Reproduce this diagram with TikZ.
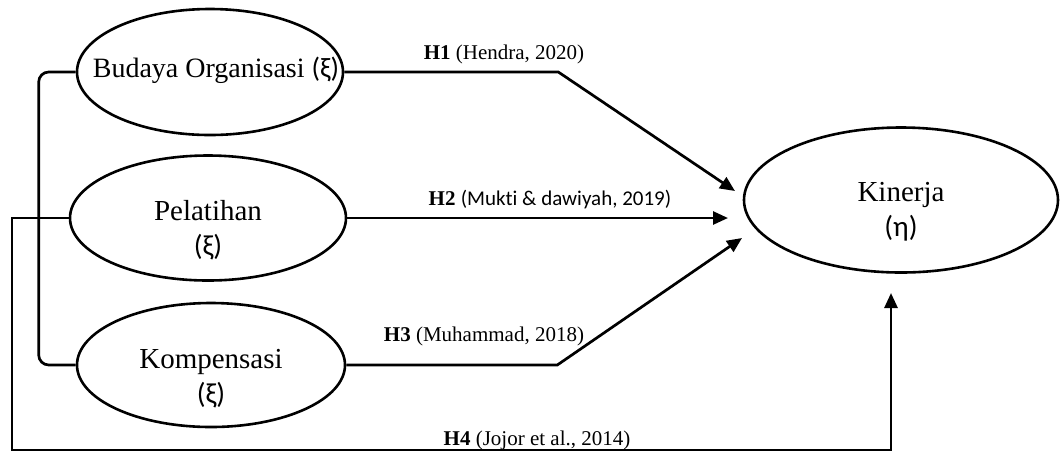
\documentclass[tikz,border=0pt]{standalone}
\usepackage{fontspec}
\setmainfont{Liberation Serif}
\newfontfamily\calfont[Ligatures=NoCommon]{Carlito}
\usetikzlibrary{shapes.geometric,arrows.meta}

\begin{document}
\begin{tikzpicture}[x=0.5pt,y=-0.5pt,
  latent/.style={ellipse,draw,line width=1.3pt,inner sep=0pt},
  bigtxt/.style={font=\fontsize{14.5}{17.5}\selectfont,align=center},
  reftxt/.style={font=\fontsize{10.5}{12}\selectfont},
  link/.style={line width=1.35pt,-{Triangle[length=7.5pt,width=6.5pt]}}]
\useasboundingbox (0,0) rectangle (1061,457);
\node [latent,minimum width=133pt,minimum height=63pt] (budaya) at (210,72) {};
\node [latent,minimum width=138pt,minimum height=62.5pt] (pelatihan) at (208,218) {};
\node [latent,minimum width=134pt,minimum height=62pt] (kompensasi) at (211,365) {};
\node [latent,minimum width=157pt,minimum height=72.5pt] (kinerja) at (901,200) {};
\node [bigtxt,font=\fontsize{14}{17}\selectfont] (budayatxt) at ([xshift=3pt,yshift=1pt]budaya) {Budaya Organisasi {\calfont(ξ)}};
\node [bigtxt] (pelatihantxt) at ([yshift=-6pt]pelatihan) {Pelatihan\\{\calfont(ξ)}};
\node [bigtxt] (kompensasitxt) at ([yshift=-7pt]kompensasi) {Kompensasi\\{\calfont(ξ)}};
\node [bigtxt] (kinerjatxt) at ([yshift=-6pt]kinerja) {Kinerja\\{\calfont(η)}};
\coordinate (h1end) at (735,191);
\coordinate (h2end) at (728,218);
\coordinate (h3end) at (742,238);
\coordinate (h4end) at (891,293);
\draw [line width=1.35pt,rounded corners=5pt] (budaya.west) -- ++(-37,0) |- (kompensasi.west);
\draw [link] (budaya.east) -- ++(214,0) -- (h1end);
\draw [link] (pelatihan.east) -- (h2end);
\draw [link] (kompensasi.east) -- ++(211,0) -- (h3end);
\draw [link] (pelatihan.west) -| (12,450) -| (h4end);
\node [reftxt] (h1) at (504,54) {\textbf{H1} (Hendra, 2020)};
\node [reftxt] (h2) at (550,200) {\textbf{H2} {\calfont (Mukti \& dawiyah, 2019)}};
\node [reftxt] (h3) at (484,336) {\textbf{H3} (Muhammad, 2018)};
\node [reftxt] (h4) at (537,440) {\textbf{H4} (Jojor et al., 2014)};
\end{tikzpicture}
\end{document}
